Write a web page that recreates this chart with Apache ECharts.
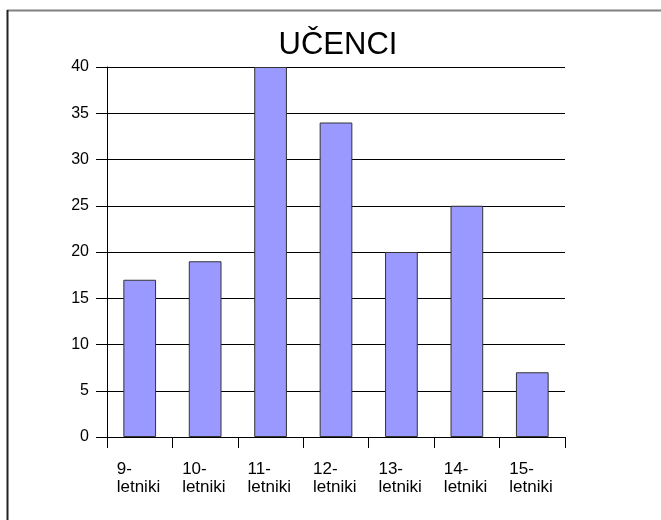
<!DOCTYPE html>
<html>
<head>
<meta charset="utf-8">
<script src="https://cdn.jsdelivr.net/npm/echarts@6/dist/echarts.min.js"></script>
<style>
html,body{margin:0;padding:0;background:#fff;}
#chart{width:661px;height:520px;}
</style>
</head>
<body>
<div id="chart"></div>
<script>
var titleText = 'UČENCI';
var categories = ['9-\nletniki', '10-\nletniki', '11-\nletniki', '12-\nletniki', '13-\nletniki', '14-\nletniki', '15-\nletniki'];
var values = [17, 19, 40, 34, 20, 25, 7];
var yTicks = [0, 5, 10, 15, 20, 25, 30, 35, 40];

var FONT = 'Liberation Sans, Arial, sans-serif';
var chart = echarts.init(document.getElementById('chart'), null, {renderer: 'canvas'});
chart.setOption({
  animation: false,
  backgroundColor: '#fff',
  title: {
    text: titleText,
    left: 333,
    top: 25,
    textAlign: 'center',
    textStyle: {fontFamily: FONT, fontSize: 31, fontWeight: 'normal', color: '#000'}
  },
  grid: {left: 107, right: 96, top: 67, bottom: 83, containLabel: false},
  xAxis: {
    type: 'category',
    data: categories,
    boundaryGap: true,
    axisLine: {show: true, lineStyle: {color: '#000', width: 1}},
    axisTick: {
      show: true, length: 11, lineStyle: {color: '#000', width: 1},
      interval: function (index) { return index < categories.length; }
    },
    axisLabel: {
      interval: 0,
      margin: 24,
      color: '#000',
      fontFamily: FONT,
      fontSize: 17,
      formatter: function (v) {
        return v.split('\n').map(function (s) { return '{a|' + s + '}'; }).join('\n');
      },
      rich: {a: {width: 46, align: 'left', fontFamily: FONT, fontSize: 17, lineHeight: 17.5, color: '#000'}}
    },
    splitLine: {show: false}
  },
  yAxis: {
    type: 'value',
    min: yTicks[0],
    max: yTicks[yTicks.length - 1],
    interval: 5,
    axisLine: {show: true, lineStyle: {color: '#000', width: 1}},
    axisTick: {show: true, length: 11, lineStyle: {color: '#000', width: 1}},
    axisLabel: {margin: 18, color: '#000', fontFamily: FONT, fontSize: 16},
    splitLine: {show: true, lineStyle: {color: '#000', width: 1}}
  },
  series: [{
    type: 'bar',
    data: values,
    barCategoryGap: '50%',
    itemStyle: {color: '#9999FF', borderColor: '#333', borderWidth: 1}
  }],
  graphic: [
    {type: 'line', shape: {x1: 7, y1: 10.5, x2: 661, y2: 10.5}, style: {stroke: '#808080', lineWidth: 2}, z: 100},
    {type: 'line', shape: {x1: 7.5, y1: 10, x2: 7.5, y2: 520}, style: {stroke: '#222', lineWidth: 2}, z: 100}
  ]
});
</script>
</body>
</html>
